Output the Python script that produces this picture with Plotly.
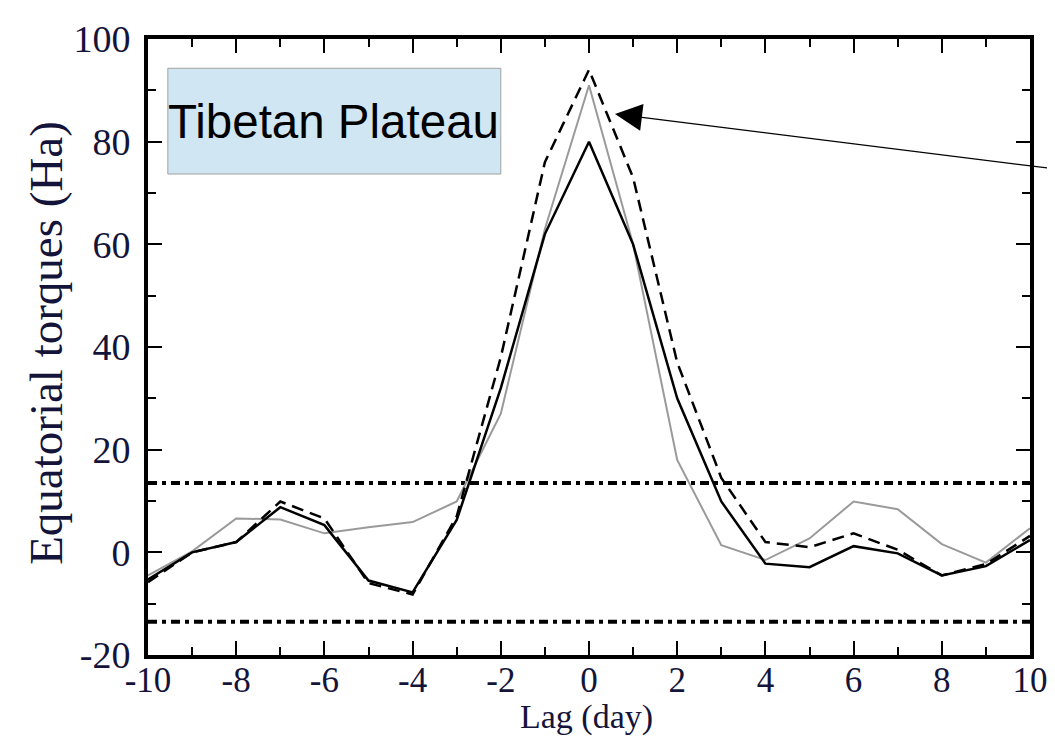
import plotly.graph_objects as go

lag = list(range(-10, 11))
solid_vals = [-5.3, 0, 2, 8.8, 5.3, -5.5, -7.8, 6.3, 32, 62, 80, 60, 30, 9.9, -2.2, -2.9, 1.2, -0.2, -4.5, -2.7, 2.4]
dashed_vals = [-5.8, 0, 2, 9.9, 6.6, -6, -8.2, 7, 38, 76, 94, 73, 37, 14.5, 2, 1, 3.7, 0.5, -4.5, -2.3, 3.2]
gray_vals = [-4.5, 0.2, 6.6, 6.4, 3.7, 4.9, 5.9, 9.9, 27, 63, 91, 60, 18, 1.4, -1.5, 2.7, 9.9, 8.4, 1.6, -2, 4.7]
sig_x = [-10, 10]
sig_upper = [13.5, 13.5]
sig_lower = [-13.5, -13.5]

x_ticks = list(range(-10, 11, 2))
y_ticks = list(range(-20, 101, 20))

fig = go.Figure()
dotpat = "9px,5px,4px,5px"
fig.add_trace(go.Scatter(x=sig_x, y=sig_upper, mode="lines",
                         line=dict(color="black", width=4, dash=dotpat), showlegend=False))
fig.add_trace(go.Scatter(x=sig_x, y=sig_lower, mode="lines",
                         line=dict(color="black", width=4, dash=dotpat), showlegend=False))
fig.add_trace(go.Scatter(x=lag, y=gray_vals, mode="lines",
                         line=dict(color="#9a9a9a", width=2), showlegend=False))
fig.add_trace(go.Scatter(x=lag, y=dashed_vals, mode="lines",
                         line=dict(color="black", width=2.5, dash="12px,7px"), showlegend=False))
fig.add_trace(go.Scatter(x=lag, y=solid_vals, mode="lines",
                         line=dict(color="black", width=2.5), showlegend=False))

serif = "Liberation Serif, Times New Roman, serif"
txtcol = "#14143a"

# label box
fig.add_shape(type="rect", x0=-9.55, x1=-2.0, y0=73.7, y1=94.3, xref="x", yref="y",
              fillcolor="#d0e6f3", line=dict(color="#a0a0a0", width=1), layer="above")
fig.add_annotation(x=-9.6, y=84, xref="x", yref="y", text="Tibetan Plateau",
                   showarrow=False, xanchor="left", yanchor="middle",
                   font=dict(family="Liberation Sans, Arial, sans-serif", size=47.5, color="black"))
# arrow
fig.add_annotation(x=0.59, y=85.4, xref="x", yref="y", text="",
                   showarrow=True, arrowhead=2, arrowsize=4.5, arrowwidth=1.2,
                   arrowcolor="black", ax=485, ay=55, axref="pixel", ayref="pixel")
# axis titles
fig.add_annotation(x=0.497, y=-0.1, xref="paper", yref="paper", text="Lag (day)",
                   showarrow=False, xanchor="center", yanchor="middle",
                   font=dict(family=serif, size=34, color=txtcol))
fig.add_annotation(x=-0.115, y=0.506, xref="paper", yref="paper", text="Equatorial torques (Ha)",
                   showarrow=False, xanchor="center", yanchor="middle", textangle=-90,
                   font=dict(family=serif, size=47, color=txtcol))

fig.update_xaxes(range=[-10, 10], tickvals=x_ticks, ticktext=[str(v) for v in x_ticks],
                 ticks="inside", ticklen=14, tickwidth=2, tickcolor="black",
                 minor=dict(dtick=1, tick0=0, ticks="inside", ticklen=8, tickwidth=2, tickcolor="black"),
                 showline=True, linecolor="black", linewidth=4, mirror="ticks",
                 showgrid=False, zeroline=False, automargin=False, ticklabelstandoff=-9,
                 tickfont=dict(family=serif, size=35, color=txtcol))
fig.update_yaxes(range=[-20, 100], tickvals=y_ticks, ticktext=[str(v) for v in y_ticks],
                 ticks="inside", ticklen=14, tickwidth=2, tickcolor="black",
                 minor=dict(dtick=10, tick0=0, ticks="inside", ticklen=8, tickwidth=2, tickcolor="black"),
                 showline=True, linecolor="black", linewidth=4, mirror="ticks",
                 showgrid=False, zeroline=False, automargin=False, ticklabelstandoff=6,
                 tickfont=dict(family=serif, size=38, color=txtcol))
# the page body adds an 8px offset, so the figure is sized/margined to compensate
fig.update_layout(width=1047, height=732, plot_bgcolor="white", paper_bgcolor="white",
                  margin=dict(l=140, r=25, t=31, b=85), showlegend=False)
fig.write_html("out.html")
